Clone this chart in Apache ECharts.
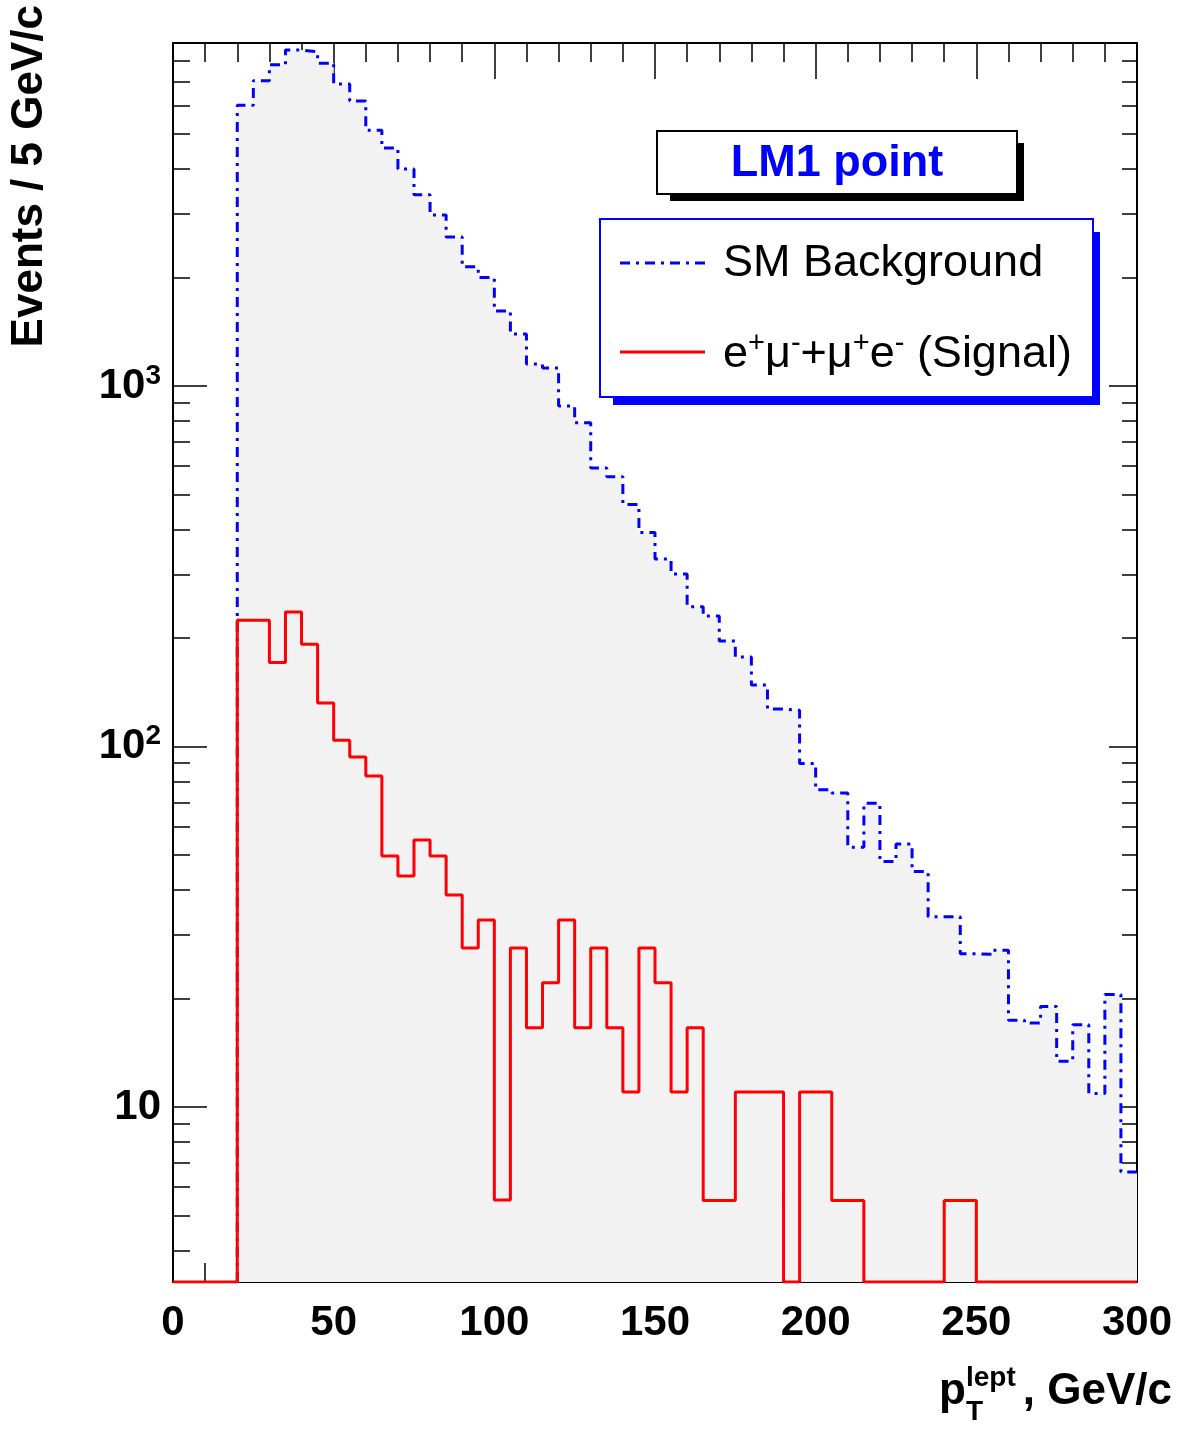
<!DOCTYPE html>
<html>
<head>
<meta charset="utf-8">
<script src="https://cdn.jsdelivr.net/npm/echarts@6/dist/echarts.min.js"></script>
<style>html,body{margin:0;padding:0;background:#fff}#main{width:1186px;height:1429px}</style>
</head>
<body>
<div id="main"></div>
<script>
// bin lower edges, GeV/c (5 GeV bins)
var binEdges = [0,5,10,15,20,25,30,35,40,45,50,55,60,65,70,75,80,85,90,95,100,105,110,115,120,125,130,135,140,145,150,155,160,165,170,175,180,185,190,195,200,205,210,215,220,225,230,235,240,245,250,255,260,265,270,275,280,285,290,295];
var smBackground = [0,0,0,0,6010,7030,7780,8550,8450,7860,6880,6170,5120,4570,4000,3390,2980,2590,2140,2000,1615,1394,1150,1122,880,790,592,560,469,392,331,301,244,230,196,177,148,127,126,89.7,75.8,74.3,52.5,69.6,48,53.6,45,33.7,33.7,26.6,26.5,27.2,17.4,17.1,19,13.4,16.9,10.9,20.5,6.6];
var signal = [0,0,0,0,224,224,171,236,192,132,104,93.5,82.8,49.7,43.7,55,49.7,38.7,27.6,33,5.52,27.6,16.6,22.1,33,16.6,27.6,16.6,11,27.6,22.1,11,16.6,5.5,5.5,11,11,11,0,11,11,5.5,5.5,0,0,0,0,0,5.5,5.5,0,0,0,0,0,0,0,0,0,0];
var majorY = [10,100,1000];
var minorY = [4,5,6,7,8,9,20,30,40,50,60,70,80,90,200,300,400,500,600,700,800,900,2000,3000,4000,5000,6000,7000,8000];
var yMinVal = 3.27, yMaxVal = 8940;

var lg = function (v) { return Math.log10(v); };
var yLo = lg(yMinVal), yHi = lg(yMaxVal);
function toLog(v) { return v > 0 ? Math.max(lg(v), yLo) : yLo; }

// step series with points at bin right edges
function stepData(vals, startAtBottom) {
  var d = [];
  var first = true;
  for (var i = 0; i < vals.length; i++) {
    if (first) {
      if (startAtBottom && vals[i] <= 0) continue;
      d.push([binEdges[i], yLo]);
      first = false;
    }
    d.push([binEdges[i] + 5, toLog(vals[i])]);
  }
  return d;
}

var FONT = '"Liberation Sans", Arial, sans-serif';
var chart = echarts.init(document.getElementById('main'));

function yAx(pos, values, len, labels) {
  return {
    type: 'value', position: pos, min: yLo, max: yHi,
    axisLine: { show: labels, lineStyle: { color: '#000', width: 2 } },
    splitLine: { show: false },
    axisTick: { show: true, inside: true, length: len, customValues: values.map(lg), lineStyle: { color: '#000', width: 1.5 } },
    axisLabel: labels && pos === 'left' ? {
      show: true, customValues: majorY.map(lg), margin: 12,
      formatter: function (v) { var p = Math.round(v); return p === 1 ? '{b|10}' : '{b|10}{s|' + p + '}'; },
      rich: { b: { fontSize: 42, fontWeight: 'bold', fontFamily: FONT, color: '#000' },
              s: { fontSize: 28, fontWeight: 'bold', fontFamily: FONT, color: '#000', padding: [0, 0, 20, 0] } }
    } : { show: false }
  };
}

function xAx(pos, labels) {
  return {
    type: 'value', position: pos, min: 0, max: 300, interval: 50,
    axisLine: { show: true, lineStyle: { color: '#000', width: 2 } },
    splitLine: { show: false },
    axisTick: { show: true, inside: true, length: 36, lineStyle: { color: '#000', width: 1.5 } },
    minorTick: { show: true, splitNumber: 5, length: 19, lineStyle: { color: '#000', width: 1.5 } },
    axisLabel: { show: labels, fontSize: 42, fontWeight: 'bold', fontFamily: FONT, color: '#000', margin: 20 }
  };
}

chart.setOption({
  animation: false,
  backgroundColor: '#fff',
  grid: { left: 173, top: 43, right: 49, bottom: 147, outerBoundsMode: 'none' },
  xAxis: [xAx('bottom', true), xAx('top', false)],
  yAxis: [yAx('left', majorY, 34, true), yAx('left', minorY, 17, false),
          yAx('right', majorY, 28, true), yAx('right', minorY, 15, false)],
  series: [
    { type: 'line', step: 'start', data: stepData(smBackground, true), showSymbol: false,
      lineStyle: { color: '#0000ff', width: 3, type: [10, 6, 3, 6] },
      areaStyle: { color: '#f2f2f2', opacity: 1 }, z: 2 },
    { type: 'line', step: 'start', data: stepData(signal, false), showSymbol: false,
      lineStyle: { color: '#ff0000', width: 3 }, z: 3 }
  ],
  graphic: [
    { type: 'rect', shape: { x: 670, y: 143, width: 354, height: 58 }, style: { fill: '#000' }, z: 10 },
    { type: 'rect', shape: { x: 657, y: 131, width: 360, height: 63 }, style: { fill: '#fff', stroke: '#000', lineWidth: 2 }, z: 11 },
    { type: 'text', x: 837, y: 164, z: 12, style: { text: 'LM1 point', fill: '#0000ff', font: 'bold 45px ' + FONT, align: 'center', verticalAlign: 'middle' } },
    { type: 'rect', shape: { x: 613, y: 232, width: 487, height: 173 }, style: { fill: '#0000ff' }, z: 10 },
    { type: 'rect', shape: { x: 600, y: 219, width: 493, height: 178 }, style: { fill: '#fff', stroke: '#0000ff', lineWidth: 2 }, z: 11 },
    { type: 'line', shape: { x1: 620, y1: 263, x2: 705, y2: 263 }, style: { stroke: '#0000ff', lineWidth: 3, lineDash: [10, 6, 3, 6] }, z: 12 },
    { type: 'text', x: 723, y: 264, z: 12, style: { text: 'SM Background', fill: '#000', font: '45px ' + FONT, verticalAlign: 'middle' } },
    { type: 'line', shape: { x1: 620, y1: 352, x2: 705, y2: 352 }, style: { stroke: '#ff0000', lineWidth: 3 }, z: 12 },
    { type: 'text', x: 723, y: 355, z: 12, style: {
        text: 'e{s|+}μ{s|-}+μ{s|+}e{s|-} (Signal)', fill: '#000', font: '45px ' + FONT, verticalAlign: 'middle',
        rich: { s: { fontSize: 29, fontFamily: FONT, padding: [0, 0, 22, 0] } } } },
    { type: 'text', x: 30, y: 5, rotation: Math.PI / 2, z: 12, style: { text: 'Events / 5 GeV/c', fill: '#000', font: 'bold 44px ' + FONT, align: 'right', verticalAlign: 'middle' } },
    { type: 'text', x: 939, y: 1414, z: 12, style: { text: 'p', fill: '#000', font: 'bold 44px ' + FONT, verticalAlign: 'bottom' } },
    { type: 'text', x: 966, y: 1392, z: 12, style: { text: 'lept', fill: '#000', font: 'bold 28px ' + FONT, verticalAlign: 'bottom' } },
    { type: 'text', x: 966, y: 1426, z: 12, style: { text: 'T', fill: '#000', font: 'bold 28px ' + FONT, verticalAlign: 'bottom' } },
    { type: 'text', x: 1172, y: 1414, z: 12, style: { text: ', GeV/c', fill: '#000', font: 'bold 44px ' + FONT, align: 'right', verticalAlign: 'bottom' } }
  ]
});
</script>
</body>
</html>
